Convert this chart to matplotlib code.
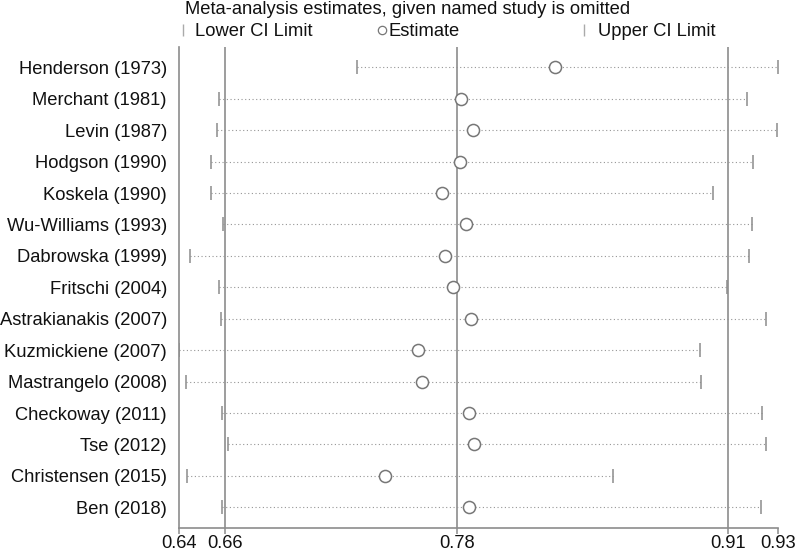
import matplotlib
matplotlib.use("Agg")
import matplotlib.pyplot as plt
from matplotlib.lines import Line2D

studies = ["Henderson (1973)", "Merchant (1981)", "Levin (1987)", "Hodgson (1990)",
           "Koskela (1990)", "Wu-Williams (1993)", "Dabrowska (1999)", "Fritschi (2004)",
           "Astrakianakis (2007)", "Kuzmickiene (2007)", "Mastrangelo (2008)",
           "Checkoway (2011)", "Tse (2012)", "Christensen (2015)", "Ben (2018)"]
estimate = [0.8237, 0.7779, 0.7838, 0.7772, 0.7688, 0.7803, 0.7699, 0.7739,
            0.7826, 0.7567, 0.7590, 0.7820, 0.7844, 0.7407, 0.7818]
lower = [0.7270, 0.6594, 0.6585, 0.6556, 0.6556, 0.6616, 0.6452, 0.6594,
         0.6605, 0.6401, 0.6434, 0.6610, 0.6638, 0.6437, 0.6610]
upper = [0.9331, 0.9178, 0.9326, 0.9209, 0.9013, 0.9201, 0.9186, 0.9082,
         0.9270, 0.8947, 0.8955, 0.9250, 0.9273, 0.8521, 0.9247]
overall = [0.6625, 0.7758, 0.9085]  # pooled lower CI, estimate, upper CI

title = "Meta-analysis estimates, given named study is omitted"
legend_labels = ["Lower CI Limit", "Estimate", "Upper CI Limit"]

x_ticks = [min(lower)] + overall + [max(upper)]
x_tick_labels = [f"{v:.2f}" for v in x_ticks]

plt.rcParams['font.family'] = ['Liberation Sans', 'DejaVu Sans']
FS = 13.2
TXT = '#111111'
GRAY = '#8c8c8c'
DOT = '#959595'

fig = plt.figure(figsize=(8.0, 5.51), dpi=100)
ax = fig.add_axes([0.2241, 0.0417, 0.74875, 0.8730])

ys = list(range(len(studies)))
for y, lo, es, up in zip(ys, lower, estimate, upper):
    ax.plot([lo, up], [y, y], color=DOT, lw=0.8, linestyle=(0, (1, 2.3)), zorder=2)
ax.plot(lower, ys, linestyle='none', marker='|', markersize=9.5, mew=1.1, color=GRAY, zorder=3)
ax.plot(upper, ys, linestyle='none', marker='|', markersize=9.5, mew=1.1, color=GRAY, zorder=3)
ax.plot(estimate, ys, linestyle='none', marker='o', markersize=8.7, mew=1.1,
        markerfacecolor='white', markeredgecolor='#777777', zorder=4)

for v in overall:
    ax.axvline(v, color=GRAY, lw=1.2, zorder=1)

ax.set_xlim(x_ticks[0], x_ticks[-1])
ax.set_ylim(14.66, -0.646)
ax.set_xticks(x_ticks)
ax.set_xticklabels(x_tick_labels, fontsize=FS, color=TXT)
ax.set_yticks(ys)
ax.set_yticklabels(studies, fontsize=FS, color=TXT)
ax.tick_params(axis='y', length=0, pad=8.9)
ax.tick_params(axis='x', length=4.3, width=1.1, color=GRAY, pad=0.5)
for s in ['top', 'right']:
    ax.spines[s].set_visible(False)
for s in ['left', 'bottom']:
    ax.spines[s].set_color(GRAY)
    ax.spines[s].set_linewidth(1.2)

fig.text(185 / 800, 1 - 10 / 551, title, fontsize=FS, color=TXT, ha='left', va='center')

h_lo = Line2D([], [], linestyle='none', marker='|', markersize=8, mew=1.0, color='#aaaaaa')
h_es = Line2D([], [], linestyle='none', marker='o', markersize=6, mew=0.9,
              markerfacecolor='white', markeredgecolor='#777777')
h_up = Line2D([], [], linestyle='none', marker='|', markersize=8, mew=1.0, color='#aaaaaa')
leg_y = 1 - 32 / 551
for h, lab, x0, pad in [(h_lo, legend_labels[0], 178.5, 0.42),
                        (h_es, legend_labels[1], 377.5, 0.08),
                        (h_up, legend_labels[2], 579.5, 0.53)]:
    fig.legend([h], [lab], loc='center left', bbox_to_anchor=(x0 / 800, leg_y),
               frameon=False, fontsize=FS, handlelength=0.5, handletextpad=pad,
               borderpad=0, borderaxespad=0, labelcolor=TXT)

fig.savefig("out.png", dpi=100)
